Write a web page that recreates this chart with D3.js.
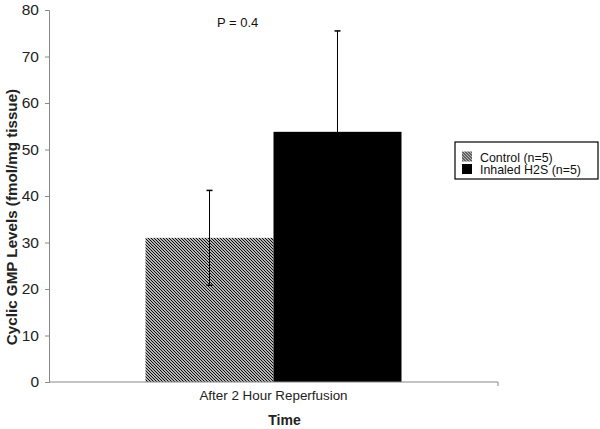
<!DOCTYPE html>
<html>
<head>
<meta charset="utf-8">
<script src="https://cdn.jsdelivr.net/npm/d3@7"></script>
<style>
  body { margin: 0; background: #fff; }
  text { font-family: Arial, "Liberation Sans", sans-serif; }
</style>
</head>
<body>
<div id="chart"></div>
<script>
// Data
const categories = ['After 2 Hour Reperfusion'];
const groups = ['Control (n=5)', 'Inhaled H2S (n=5)'];
const means = [31, 53.8];
const errors = [10.2, 21.7];
const yTicks = [0, 10, 20, 30, 40, 50, 60, 70, 80];

const width = 600;
const height = 429;
const margin = { top: 10, right: 102, bottom: 47, left: 49 };
const fontFamily = 'Arial, "Liberation Sans", sans-serif';

const svg = d3.select('#chart').append('svg')
  .attr('width', width)
  .attr('height', height);

// Hatch pattern for the control bar
const defs = svg.append('defs');
const hatch = defs.append('pattern')
  .attr('id', 'hatch')
  .attr('patternUnits', 'userSpaceOnUse')
  .attr('width', 3)
  .attr('height', 3);
hatch.append('rect').attr('width', 3).attr('height', 3).attr('fill', '#fff');
hatch.append('path')
  .attr('d', 'M-1,-1 L4,4 M-1,2 L1,4 M2,-1 L4,1')
  .attr('stroke', '#000')
  .attr('stroke-width', 1.1);

const fills = ['url(#hatch)', '#000'];

// Scales
const x = d3.scaleBand()
  .domain(categories)
  .range([margin.left, width - margin.right])
  .paddingInner(0)
  .paddingOuter(0.377);

const xSub = d3.scaleBand()
  .domain(groups)
  .range([0, x.bandwidth()]);

const y = d3.scaleLinear()
  .domain([0, 80])
  .range([height - margin.bottom, margin.top]);

// Bars
const barG = svg.append('g');
groups.forEach((g, i) => {
  barG.append('rect')
    .attr('x', x(categories[0]) + xSub(g))
    .attr('y', y(means[i]))
    .attr('width', xSub.bandwidth())
    .attr('height', y(0) - y(means[i]))
    .attr('fill', fills[i]);
});

// Error bars
groups.forEach((g, i) => {
  const cx = x(categories[0]) + xSub(g) + xSub.bandwidth() / 2;
  const errG = svg.append('g').attr('stroke', '#000').attr('stroke-width', 1);
  errG.append('line')
    .attr('x1', cx).attr('x2', cx)
    .attr('y1', y(means[i] - errors[i]))
    .attr('y2', y(means[i] + errors[i]));
  [means[i] - errors[i], means[i] + errors[i]].forEach((v) => {
    errG.append('line')
      .attr('x1', cx - 3).attr('x2', cx + 3)
      .attr('y1', y(v)).attr('y2', y(v))
      .attr('stroke-width', 1.5);
  });
});

// Y axis
const yAxis = svg.append('g')
  .attr('transform', `translate(${margin.left},0)`)
  .call(d3.axisLeft(y).tickValues(yTicks).tickSize(4).tickPadding(6));
yAxis.select('.domain').attr('stroke', '#888');
yAxis.selectAll('.tick line').attr('stroke', '#888');
yAxis.selectAll('.tick text')
  .attr('font-size', 15.5)
  .attr('fill', '#222')
  .style('font-family', fontFamily);

// X axis
const xAxis = svg.append('g')
  .attr('transform', `translate(0,${y(0)})`)
  .call(d3.axisBottom(x).tickSize(0).tickPadding(8));
xAxis.select('.domain').attr('stroke', '#888').attr('d', `M${margin.left},0H${width - margin.right}V4`);
xAxis.selectAll('.tick text')
  .attr('font-size', 13.4)
  .attr('fill', '#222')
  .style('font-family', fontFamily);

// Axis titles
svg.append('text')
  .attr('transform', `translate(17,${(y(0) + y(80)) / 2 + 21})rotate(-90)`)
  .attr('text-anchor', 'middle')
  .attr('font-size', 15.2)
  .attr('font-weight', 'bold')
  .attr('fill', '#222')
  .text('Cyclic GMP Levels (fmol/mg tissue)');

svg.append('text')
  .attr('x', x(categories[0]) + x.bandwidth() / 2 + 11)
  .attr('y', 425)
  .attr('text-anchor', 'middle')
  .attr('font-size', 14)
  .attr('font-weight', 'bold')
  .attr('fill', '#222')
  .text('Time');

// P value annotation
svg.append('text')
  .attr('x', 217)
  .attr('y', 27)
  .attr('font-size', 13)
  .attr('fill', '#111')
  .text('P = 0.4');

// Legend
const legend = svg.append('g').attr('transform', 'translate(455,142)');
legend.append('rect')
  .attr('width', 143)
  .attr('height', 37)
  .attr('fill', '#fff')
  .attr('stroke', '#000')
  .attr('stroke-width', 1.2);
groups.forEach((g, i) => {
  const row = legend.append('g').attr('transform', `translate(7,${9.5 + i * 12.5})`);
  row.append('rect')
    .attr('width', 10)
    .attr('height', 10)
    .attr('fill', fills[i]);
  row.append('text')
    .attr('x', 18)
    .attr('y', 10)
    .attr('font-size', 12.4)
    .attr('fill', '#111')
    .text(g);
});
</script>
</body>
</html>
